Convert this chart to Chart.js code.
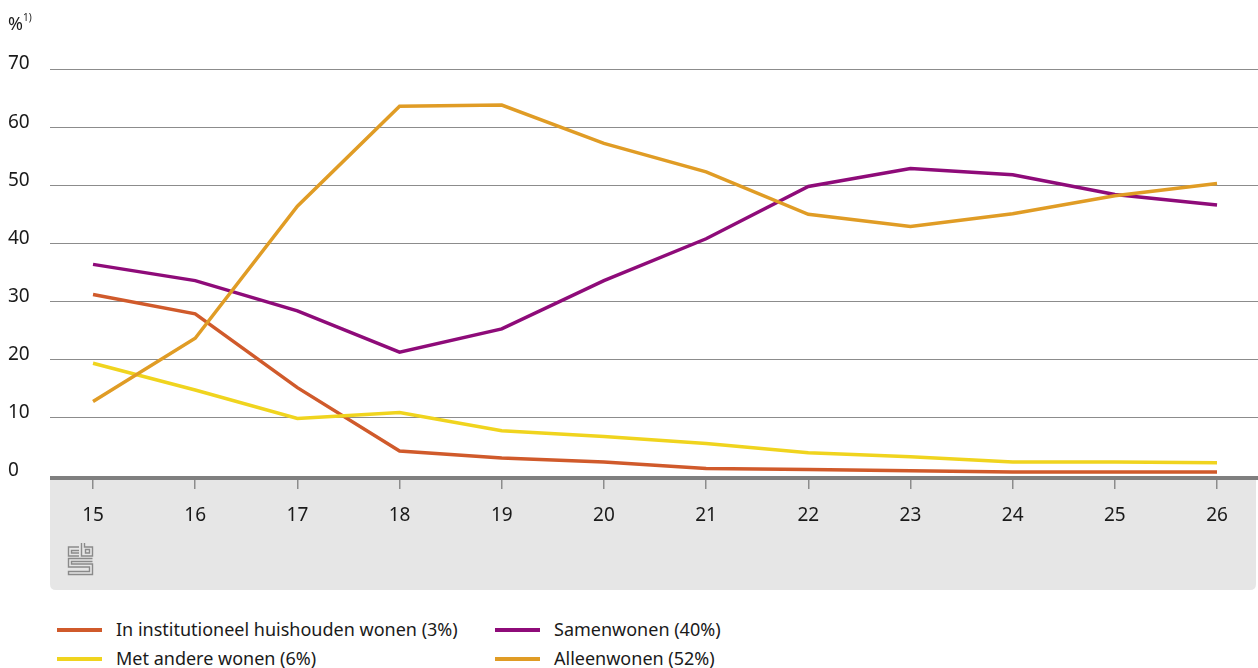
<!DOCTYPE html>
<html>
<head>
<meta charset="utf-8">
<script src="https://cdn.jsdelivr.net/npm/chart.js@4.4.1/dist/chart.umd.min.js"></script>
<style>
  html, body { margin: 0; padding: 0; background: #fff; }
  body { width: 1258px; height: 668px; position: relative; overflow: hidden; font-family: "Noto Sans", sans-serif; color: #1a1a1a; }
  #wrap { position: absolute; left: 0; top: 0; width: 1258px; height: 600px; }
  #unit { position: absolute; left: 8px; top: 11px; font-size: 18px; }
  #unit sup { font-size: 10px; position: relative; top: -2px; }
  .leg { position: absolute; font-size: 18px; line-height: 20px; white-space: nowrap; }
  .leg .swatch { position: absolute; top: 9px; width: 45px; height: 4px; }
</style>
</head>
<body>
<div id="wrap"><canvas id="chart" width="1258" height="600"></canvas></div>
<div id="unit">%<sup>1)</sup></div>
<div id="legend"></div>
<script>
// DATA
const ages = [15, 16, 17, 18, 19, 20, 21, 22, 23, 24, 25, 26];
const institutioneel = [31.2, 27.9, 15.2, 4.3, 3.1, 2.4, 1.3, 1.1, 0.9, 0.7, 0.7, 0.7];
const metAndere = [19.4, 14.8, 9.9, 10.9, 7.8, 6.8, 5.6, 4.0, 3.3, 2.4, 2.4, 2.3];
const samenwonen = [36.4, 33.6, 28.4, 21.3, 25.3, 33.6, 40.8, 49.8, 52.9, 51.8, 48.4, 46.6];
const alleenwonen = [12.8, 23.7, 46.4, 63.6, 63.8, 57.2, 52.3, 45.0, 42.9, 45.1, 48.2, 50.3];
const seriesNames = [
  "In institutioneel huishouden wonen (3%)",
  "Met andere wonen (6%)",
  "Samenwonen (40%)",
  "Alleenwonen (52%)"
];
const seriesColors = ["#d05a2b", "#f0d41e", "#8e0b79", "#e09c25"];
const yTicks = [0, 10, 20, 30, 40, 50, 60, 70];

const toPoints = vals => vals.map((v, i) => ({ x: ages[i], y: v }));

// grey footer box, axis line and logo
const frame = {
  id: "frame",
  beforeDraw(c) {
    const ctx = c.ctx, a = c.chartArea;
    const x0 = a.left, y0 = a.bottom, x1 = c.width - 2, y1 = 590, r = 6;
    ctx.save();
    ctx.fillStyle = "#e6e6e6";
    ctx.beginPath();
    ctx.moveTo(x0, y0);
    ctx.lineTo(x1, y0);
    ctx.lineTo(x1, y1 - r);
    ctx.quadraticCurveTo(x1, y1, x1 - r, y1);
    ctx.lineTo(x0 + r, y1);
    ctx.quadraticCurveTo(x0, y1, x0, y1 - r);
    ctx.closePath();
    ctx.fill();

    // cbs logo
    ctx.translate(68, 543);
    ctx.strokeStyle = "#8a8a8a";
    ctx.lineWidth = 1.4;
    ctx.beginPath();
    // c
    ctx.moveTo(11, 4); ctx.lineTo(0.5, 4); ctx.lineTo(0.5, 13); ctx.lineTo(11, 13);
    ctx.moveTo(11, 7.5); ctx.lineTo(3.5, 7.5); ctx.lineTo(3.5, 10); ctx.lineTo(11, 10);
    // b
    ctx.moveTo(13.5, 0); ctx.lineTo(13.5, 13); ctx.lineTo(24.5, 13); ctx.lineTo(24.5, 4); ctx.lineTo(16.5, 4); ctx.lineTo(16.5, 0);
    ctx.rect(17.5, 6.5, 4, 3.5);
    // s
    ctx.moveTo(24.5, 15.5); ctx.lineTo(0.5, 15.5); ctx.lineTo(0.5, 24); ctx.lineTo(21.5, 24); ctx.lineTo(21.5, 28.5); ctx.lineTo(0.5, 28.5); ctx.lineTo(0.5, 31.5); ctx.lineTo(24.5, 31.5); ctx.lineTo(24.5, 21); ctx.lineTo(3.5, 21); ctx.lineTo(3.5, 18.5); ctx.lineTo(24.5, 18.5);
    ctx.stroke();
    ctx.restore();
  },
  afterDraw(c) {
    const ctx = c.ctx, a = c.chartArea;
    ctx.save();
    ctx.fillStyle = "#7f7f7f";
    ctx.fillRect(a.left, a.bottom, c.width - a.left, 4);
    ctx.restore();
  }
};

new Chart(document.getElementById("chart"), {
  type: "line",
  data: {
    datasets: [institutioneel, metAndere, samenwonen, alleenwonen].map((vals, i) => ({
      label: seriesNames[i],
      data: toPoints(vals),
      borderColor: seriesColors[i],
      backgroundColor: seriesColors[i],
      borderWidth: 3.5,
      pointRadius: 0,
      tension: 0
    })).reverse()
  },
  options: {
    responsive: false,
    animation: false,
    layout: { padding: { left: 8, right: 0, top: 69, bottom: 10 } },
    plugins: { legend: { display: false }, tooltip: { enabled: false } },
    scales: {
      x: {
        type: "linear",
        min: 14.579,
        max: 26.401,
        afterBuildTicks: s => { s.ticks = ages.map(v => ({ value: v })); },
        afterFit: s => { s.height = 114; },
        border: { display: false },
        grid: { drawOnChartArea: false, drawTicks: true, tickLength: 13, color: "#8c8c8c", lineWidth: 1.5 },
        ticks: { font: { family: "Noto Sans", size: 19 }, color: "#1a1a1a", padding: 15, maxRotation: 0 }
      },
      y: {
        min: 0,
        max: 70,
        afterBuildTicks: s => { s.ticks = yTicks.map(v => ({ value: v })); },
        afterFit: s => { s.width = 42; },
        border: { display: false },
        grid: { drawTicks: false, color: "#8c8c8c", lineWidth: 1 },
        ticks: { font: { family: "Noto Sans", size: 19 }, color: "#1a1a1a", crossAlign: "far", labelOffset: -5, padding: 0 }
      }
    }
  },
  plugins: [frame]
});

// LEGEND
const legendPos = [[57, 619], [495, 619], [57, 648], [495, 648]];
const legendOrder = [0, 2, 1, 3];
const legend = document.getElementById("legend");
legendOrder.forEach((s, k) => {
  const [lx, ly] = legendPos[k];
  const div = document.createElement("div");
  div.className = "leg";
  div.style.left = lx + "px";
  div.style.top = ly + "px";
  div.innerHTML = `<span class="swatch" style="left:0;background:${seriesColors[s]}"></span><span style="margin-left:59px">${seriesNames[s]}</span>`;
  legend.appendChild(div);
});
</script>
</body>
</html>
